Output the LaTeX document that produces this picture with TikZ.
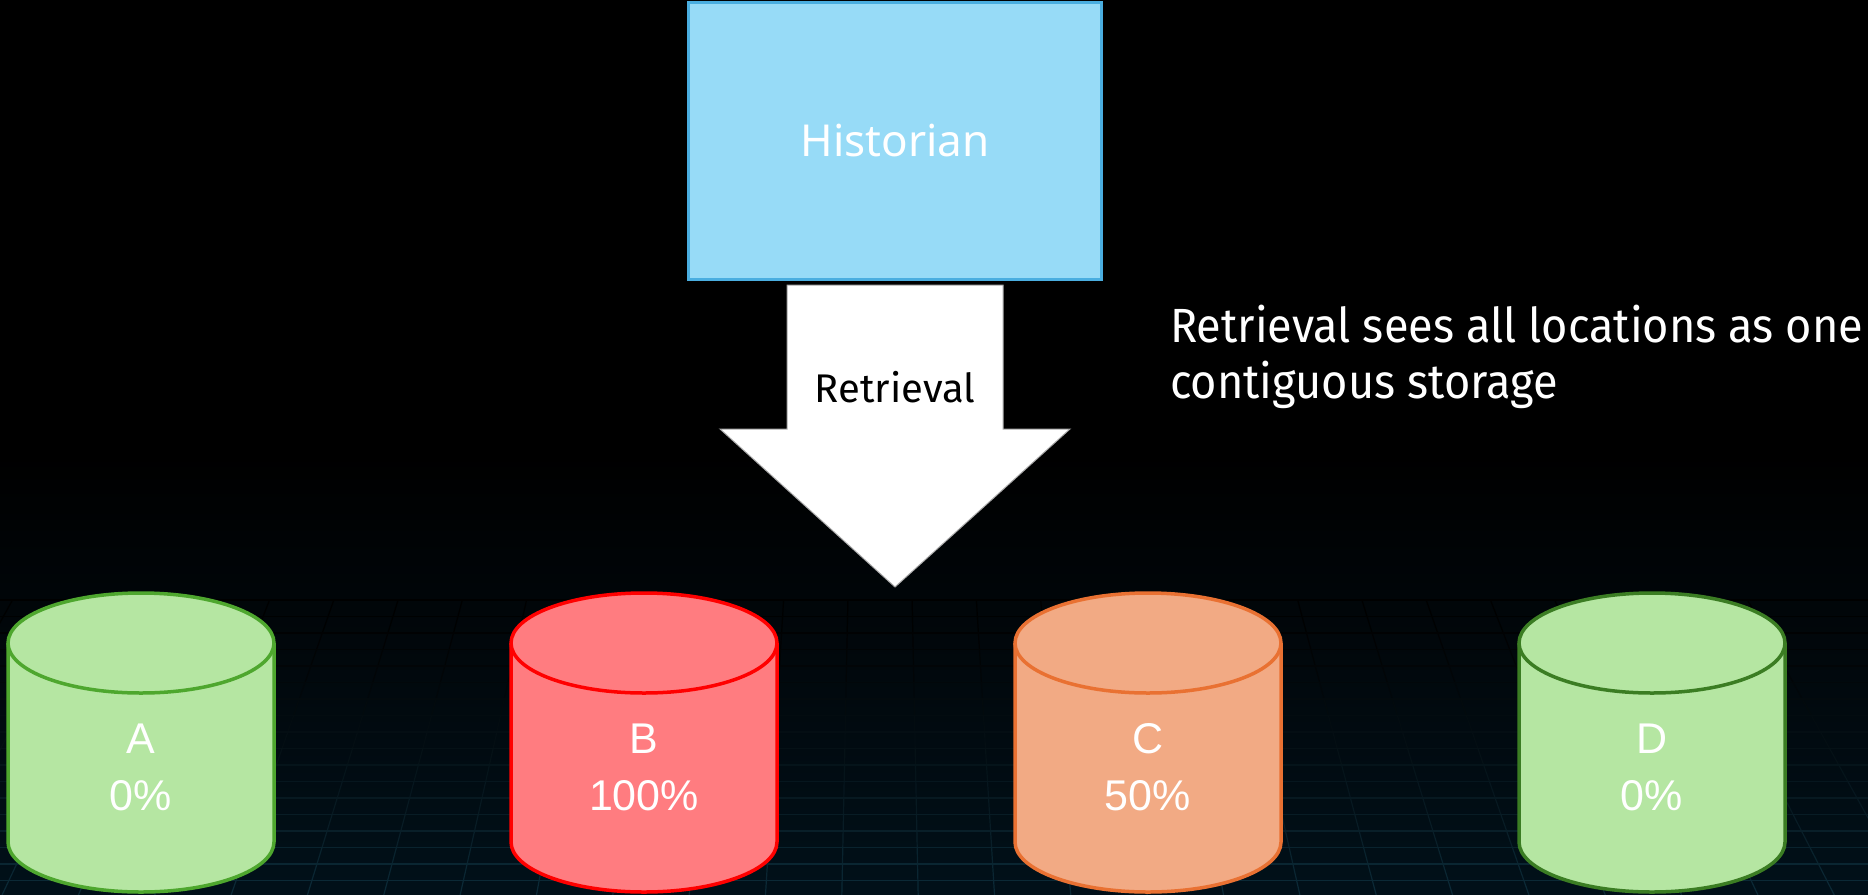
\documentclass[tikz,border=0pt]{standalone}
\usepackage{fontspec}
\newfontfamily\histfont{Noto Sans}
\newfontfamily\aptfont{Fira Sans}
\newfontfamily\notefont[FakeStretch=0.94]{Fira Sans}
\newfontfamily\cylfont{Liberation Sans}
\usetikzlibrary{calc}
\definecolor{bgnavy}{RGB}{2,22,34}
\definecolor{gridc}{RGB}{12,44,58}
\definecolor{histfill}{RGB}{151,219,247}
\definecolor{histdraw}{RGB}{74,174,224}
\definecolor{greenfill}{RGB}{181,230,162}
\definecolor{greenA}{RGB}{78,167,46}
\definecolor{greenD}{RGB}{59,125,35}
\definecolor{redfill}{RGB}{255,124,128}
\definecolor{reddraw}{RGB}{255,0,0}
\definecolor{orangefill}{RGB}{242,170,132}
\definecolor{orangedraw}{RGB}{233,113,50}
\newcommand\dbcyl[6]{%
  \path[fill=#3,draw=#4,cylline] ({#2-133},-643) -- ({#2-133},-842)
    arc[start angle=180,end angle=360,x radius=133,y radius=50]
    -- ({#2+133},-643)
    arc[start angle=0,end angle=180,x radius=133,y radius=50] -- cycle;
  \draw[draw=#4,cylline] ({#2+133},-643)
    arc[start angle=0,end angle=-180,x radius=133,y radius=50];
  \node[cyltext] (#1) at (#2,-767) {#5\\#6};
}
\begin{document}
\begin{tikzpicture}[x=1pt,y=1pt,
  gridline/.style={line width=1.2pt},
  cylline/.style={line width=3.5pt,line join=round},
  cyltext/.style={font=\cylfont\fontsize{43}{57}\selectfont,text=white,align=center,inner sep=0pt},
  histbox/.style={draw=histdraw,fill=histfill,line width=3pt,minimum width=413pt,minimum height=277pt,
    inner sep=0pt,text=white,font=\histfont\fontsize{44}{53}\selectfont},
  blockarrow/.style={fill=white,draw=gray!70,line width=1pt},
  arrowlabel/.style={font=\aptfont\fontsize{40}{48}\selectfont,text=black,inner sep=0pt},
  note/.style={font=\notefont\fontsize{48}{56}\selectfont,text=white,inner sep=0pt}]
\useasboundingbox (0,0) rectangle (1868,-894);
% background
\fill[black] (0,0) rectangle (1868,-460);
\shade[top color=black,bottom color=bgnavy] (0,-453) rectangle (1868,-1041);
\foreach \i in {0,...,17} {
  \pgfmathsetmacro\ya{600+16.5*\i}
  \pgfmathsetmacro\yb{\ya+16.5}
  \pgfmathsetmacro\f{100*((\ya-600)/294)^1.4}
  \colorlet{gc}{gridc!\f!black}
  \draw[gridline,gc] (0,-\ya) -- (1868,-\ya);
  \foreach \k in {-14,...,13} {
    \draw[gridline,gc] ({880+(\k+0.5)*76.3*(1-0.19*(894-\ya)/354)},-\ya)
      -- ({880+(\k+0.5)*76.3*(1-0.19*(894-\yb)/354)},-\yb);
  }
}
% historian
\node[histbox] (hist) at (895,-141) {Historian};
% block arrow
\coordinate (atop) at (895,-285);
\coordinate (atip) at (895,-587);
\path[blockarrow] ($(atop)+(-108,0)$) -- ($(atop)+(108,0)$) -- ($(atop)+(108,-144)$)
  -- ($(atop)+(175,-144)$) -- (atip) -- ($(atop)+(-175,-144)$) -- ($(atop)+(-108,-144)$) -- cycle;
\node[arrowlabel,anchor=base] (rlabel) at (895,-402) {Retrieval};
% note
\node[note,anchor=base west] (note1) at (1170,-342) {Retrieval sees all locations as one};
\node[note,anchor=base west] (note2) at (1170,-398) {contiguous storage};
% storage cylinders
\dbcyl{cA}{141}{greenfill}{greenA}{A}{0\%}
\dbcyl{cB}{644}{redfill}{reddraw}{B}{100\%}
\dbcyl{cC}{1148}{orangefill}{orangedraw}{C}{50\%}
\dbcyl{cD}{1652}{greenfill}{greenD}{D}{0\%}
\end{tikzpicture}
\end{document}
